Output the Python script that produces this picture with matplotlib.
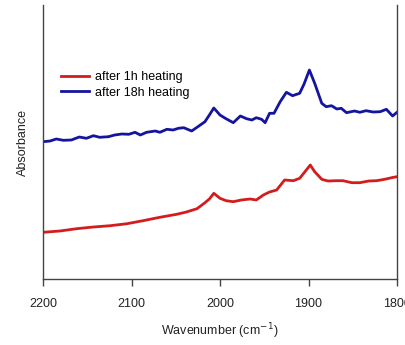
import numpy as np
import matplotlib
matplotlib.use('Agg')
import matplotlib.pyplot as plt

plt.rcParams['font.family'] = ['Liberation Sans', 'DejaVu Sans']

# spectra (arbitrary absorbance units)
wn_18h = [2200, 2192, 2185, 2177, 2168, 2159, 2151, 2143, 2136, 2126, 2119, 2111,
          2103, 2096, 2090, 2083, 2073, 2068, 2060, 2053, 2047, 2041, 2032, 2025,
          2017, 2012, 2007, 2000, 1994, 1985, 1977, 1970, 1964, 1959, 1953, 1949,
          1944, 1939, 1932, 1925, 1918, 1910, 1905, 1899, 1893, 1885, 1880, 1874,
          1868, 1863, 1857, 1848, 1842, 1835, 1827, 1819, 1812, 1805, 1800]
abs_18h = [0.1373, 0.1380, 0.1400, 0.1387, 0.1390, 0.1420, 0.1407, 0.1433, 0.1417,
           0.1423, 0.1440, 0.1450, 0.1447, 0.1467, 0.1440, 0.1467, 0.1480, 0.1467,
           0.1497, 0.1490, 0.1507, 0.1513, 0.1480, 0.1523, 0.1573, 0.1640, 0.1710,
           0.1640, 0.1607, 0.1563, 0.1630, 0.1603, 0.1590, 0.1613, 0.1597, 0.1563,
           0.1657, 0.1657, 0.1773, 0.1867, 0.1833, 0.1857, 0.1950, 0.2090, 0.1957,
           0.1757, 0.1723, 0.1733, 0.1700, 0.1707, 0.1663, 0.1680, 0.1667, 0.1683,
           0.1670, 0.1673, 0.1697, 0.1630, 0.1667]

wn_1h = [2200, 2181, 2162, 2143, 2124, 2105, 2087, 2068, 2049, 2038, 2026, 2017,
         2012, 2007, 2000, 1993, 1985, 1976, 1966, 1959, 1951, 1944, 1936, 1927,
         1917, 1910, 1904, 1898, 1893, 1885, 1878, 1868, 1861, 1851, 1842, 1832,
         1823, 1814, 1804, 1800]
abs_1h = [0.0467, 0.0480, 0.0503, 0.0520, 0.0533, 0.0553, 0.0583, 0.0617, 0.0647,
          0.0670, 0.0703, 0.0763, 0.0800, 0.0857, 0.0807, 0.0783, 0.0773, 0.0790,
          0.0800, 0.0790, 0.0840, 0.0870, 0.0890, 0.0990, 0.0983, 0.1007, 0.1073,
          0.1140, 0.1073, 0.0997, 0.0980, 0.0983, 0.0983, 0.0963, 0.0963, 0.0980,
          0.0983, 0.0997, 0.1017, 0.1023]

fig = plt.figure(figsize=(4.06, 3.45), dpi=100)
ax = fig.add_axes([43/406, 1 - 279/345, 354/406, 274/345])

ax.plot(wn_1h, abs_1h, color='#d41c1c', lw=2, label='after 1h heating')
ax.plot(wn_18h, abs_18h, color='#1414a0', lw=2, label='after 18h heating')

ax.set_xlim(2200, 1800)
ax.set_ylim(0, 0.274)
ax.set_xticks([2200, 2100, 2000, 1900, 1800])
ax.set_yticks([])
ax.spines['top'].set_visible(False)
for s in ['left', 'right', 'bottom']:
    ax.spines[s].set_color('#444444')
    ax.spines[s].set_linewidth(1)
ax.tick_params(axis='x', direction='out', length=5, width=1, color='#444444',
               labelsize=9, pad=9, labelcolor='#222222')

ax.set_xlabel('Wavenumber (cm$^{-1}$)', fontsize=9, color='#222222', labelpad=8)
ax.set_ylabel('Absorbance', fontsize=9, color='#222222', labelpad=10)

ax.legend(loc='upper left', bbox_to_anchor=(0.02, 0.80), frameon=False,
          fontsize=9, handlelength=2.2, handletextpad=0.5, labelspacing=0.3)

fig.savefig('out.png', dpi=100)
